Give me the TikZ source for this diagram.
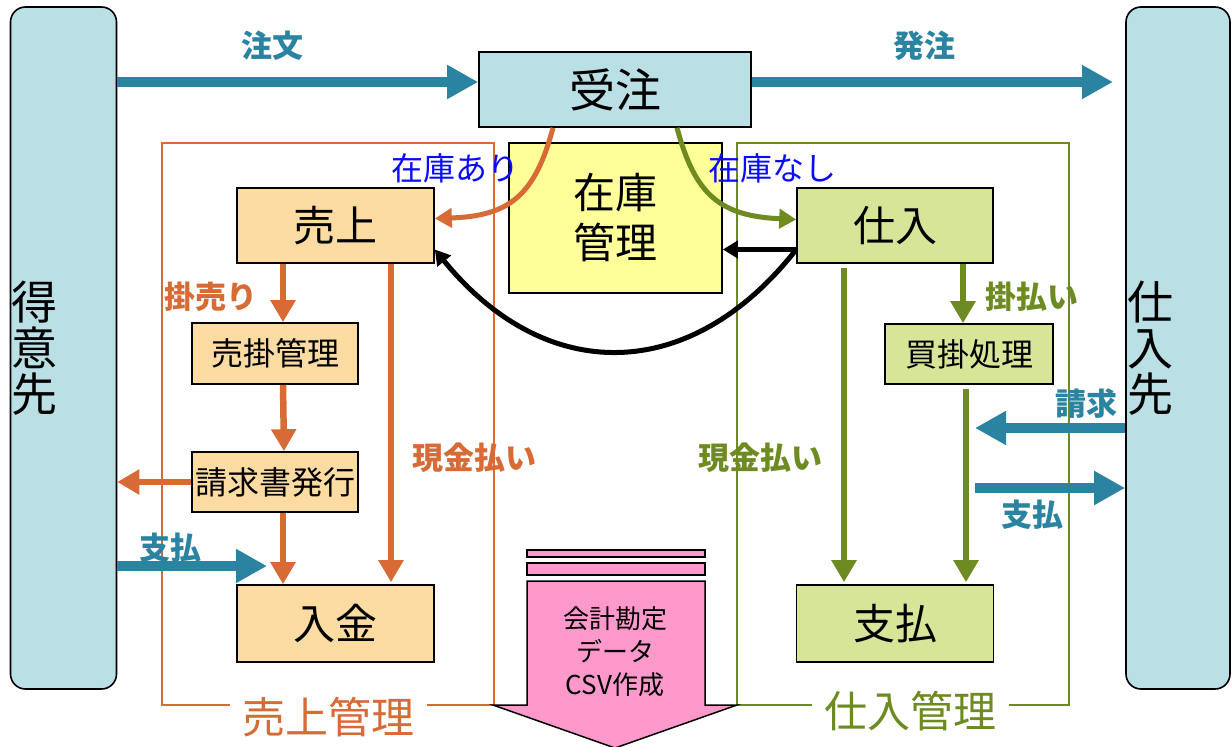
\documentclass[tikz,border=0pt]{standalone}
\usepackage{fontspec}
\setmainfont{Noto Sans CJK JP}
\usetikzlibrary{arrows.meta}
\definecolor{cteal}{HTML}{2A83A0}
\definecolor{corange}{HTML}{D86B35}
\definecolor{cgreen}{HTML}{6E8B22}
\definecolor{cblue}{HTML}{0A0AFF}
\definecolor{flblue}{HTML}{BADFE5}
\definecolor{fpeach}{HTML}{FCDCA2}
\definecolor{flgreen}{HTML}{D7E599}
\definecolor{fyellow}{HTML}{FFFF99}
\definecolor{fpink}{HTML}{FF99CC}
\newcommand{\fs}[2]{\fontsize{#1}{#2}\selectfont}
\begin{document}
\begin{tikzpicture}[x=1pt,y=-1pt,
  box/.style={draw=black, line width=1.6pt, inner sep=0pt, align=center},
  panel/.style={draw=black, line width=1.6pt, fill=flblue, rounded corners=15pt, inner sep=0pt},
  tarrow/.style={draw=cteal, line width=10pt, -{Triangle[length=31pt,width=32pt]}},
  oarrow/.style={draw=corange, line width=6.5pt, -{Triangle[length=22pt,width=24pt]}},
  garrow/.style={draw=cgreen, line width=6.5pt, -{Triangle[length=22pt,width=24pt]}},
  karrow/.style={draw=black, line width=5pt, -{Triangle[length=15pt,width=17pt]}},
  tlabel/.style={text=cteal, font=\bfseries\fs{31}{33}, inner sep=0pt},
  olabel/.style={text=corange, font=\bfseries\fs{31}{33}, inner sep=0pt},
  glabel/.style={text=cgreen, font=\bfseries\fs{31}{33}, inner sep=0pt},
  blabel/.style={text=cblue, font=\fs{32}{34}, inner sep=0pt},
]
\useasboundingbox (0,0) rectangle (1232,747);
\fill[white] (0,0) rectangle (1232,747);

% side panels
\node[panel, minimum width=106pt, minimum height=682pt] (tokui) at (63.5,348) {};
\node[font=\fs{46}{46}, align=center, inner sep=0pt] (tokuitxt) at (35,348) {得\\意\\先};
\node[panel, minimum width=104pt, minimum height=682pt] (shiiresaki) at (1178,348) {};
\node[font=\fs{46}{46}, align=center, inner sep=0pt] (shiiresakitxt) at (1150,348) {仕\\入\\先};

% frames
\draw[corange, line width=1.5pt] (230,705) -- (162,705) -- (162,143) -- (494,143) -- (494,705) -- (427,705);
\node[text=corange, font=\fs{43}{45}, inner sep=0pt] (urikanri) at (328,717) {売上管理};
\draw[cgreen, line width=1.5pt] (812,705) -- (737,705) -- (737,143) -- (1069,143) -- (1069,705) -- (1009,705);
\node[text=cgreen, font=\fs{43}{45}, inner sep=0pt] (shiirekanri) at (910,711) {仕入管理};

% boxes
\node[box, fill=flblue, minimum width=272pt, minimum height=75pt, font=\fs{46}{48}] (juchu) at (615,89.5) {受注};
\node[box, fill=fyellow, minimum width=213pt, minimum height=150pt, font=\fs{42}{50}] (zaiko) at (615.5,218) {在庫\\管理};
\node[box, fill=fpeach, minimum width=197pt, minimum height=75pt, font=\fs{42}{44}] (uriage) at (335.5,225.5) {売上};
\node[box, fill=flgreen, minimum width=196pt, minimum height=75pt, font=\fs{42}{44}] (shiire) at (895,225.5) {仕入};
\node[box, fill=fpeach, minimum width=166pt, minimum height=61pt, font=\fs{32}{34}] (urikake) at (275,353.5) {売掛管理};
\node[box, fill=fpeach, minimum width=166pt, minimum height=60pt, font=\fs{32}{34}] (seikyu) at (275,482) {請求書発行};
\node[box, fill=fpeach, minimum width=197pt, minimum height=77pt, font=\fs{42}{44}] (nyukin) at (335.5,623.5) {入金};
\node[box, fill=flgreen, minimum width=197pt, minimum height=77pt, font=\fs{42}{44}] (shiharai) at (895,623.5) {支払};
\node[box, fill=flgreen, minimum width=168pt, minimum height=60pt, font=\fs{32}{34}] (kaikake) at (969,354) {買掛処理};

% pink arrow
\draw[fill=fpink, line width=1.5pt] (527,550) rectangle (705,557);
\draw[fill=fpink, line width=1.5pt] (527,563) rectangle (705,575);
\draw[fill=fpink, line width=1.5pt] (527,581) -- (705,581) -- (705,705) -- (737,705) -- (615,748) -- (493,705) -- (527,705) -- cycle;
\node[font=\fs{26}{33}, align=center, inner sep=0pt] (csv) at (615,652) {会計勘定\\データ\\CSV作成};

% teal arrows
\coordinate (a1) at ([yshift=7.5pt]juchu.west);
\draw[tarrow] (tokui.east |- a1) -- (a1);
\node[tlabel] (l1) at (272,46) {注文};
\coordinate (a2) at ([yshift=7.5pt]juchu.east);
\coordinate (a2e) at (1113,82);
\draw[tarrow] (a2) -- (a2e);
\node[tlabel] (l2) at (924,46) {発注};
\coordinate (c1) at (267,566);
\draw[tarrow] (tokui.east |- c1) -- (c1);
\node[tlabel] (l3) at (170,548) {支払};
\coordinate (d1) at (975,428);
\draw[tarrow] (shiiresaki.west |- d1) -- (d1);
\node[tlabel] (l4) at (1086,404) {請求};
\coordinate (e1) at (975,488);
\draw[tarrow] (e1) -- (shiiresaki.west |- e1);
\node[tlabel] (l5) at (1032,515) {支払};

% stock curves
\draw[draw=corange, line width=5pt, -{Triangle[length=17pt,width=19pt]}]
  ([xshift=-62pt]juchu.south) .. controls (535,195) and (510,216) .. ([yshift=7pt]uriage.east);
\node[blabel] (l6) at (455,168) {在庫あり};
\draw[draw=cgreen, line width=5pt, -{Triangle[length=17pt,width=19pt]}]
  ([xshift=62pt]juchu.south) .. controls (695,195) and (720,216) .. ([yshift=6pt]shiire.west);
\node[blabel] (l7) at (772,168) {在庫なし};

% black arrows
\coordinate (b1) at ([yshift=-24pt]shiire.west);
\draw[karrow] (b1) -- (b1 -| zaiko.east);
\draw[karrow] (b1) .. controls (690,385) and (545,385) .. ([yshift=-24pt]uriage.east);

% orange flow
\coordinate (o1) at ([xshift=-52.5pt]uriage.south);
\draw[oarrow] (o1) -- (o1 |- urikake.north);
\node[olabel] (l8) at (211,297) {掛売り};
\draw[oarrow] ([xshift=8pt]urikake.south) -- ([xshift=9pt]seikyu.north);
\coordinate (o2) at ([xshift=8pt]seikyu.south);
\draw[oarrow] (o2) -- (o2 |- nyukin.north);
\coordinate (o3) at ([xshift=55.5pt]uriage.south);
\draw[oarrow] (o3) -- ([yshift=2pt]o3 |- nyukin.north);
\node[olabel] (l9) at (474,458) {現金払い};
\draw[oarrow] (seikyu.west) -- (seikyu.west -| tokui.east);

% green flow
\coordinate (g1) at ([xshift=-51pt,yshift=-4pt]shiire.south);
\draw[garrow] (g1) -- ([yshift=2pt]g1 |- shiharai.north);
\node[glabel] (l10) at (760,458) {現金払い};
\coordinate (g2) at ([xshift=68pt]shiire.south);
\draw[garrow] (g2) -- (g2 |- kaikake.north);
\node[glabel] (l11) at (1032,297) {掛払い};
\coordinate (g3) at ([xshift=-3pt,yshift=-4pt]kaikake.south);
\draw[garrow] (g3) -- ([yshift=2pt]g3 |- shiharai.north);
\end{tikzpicture}
\end{document}
